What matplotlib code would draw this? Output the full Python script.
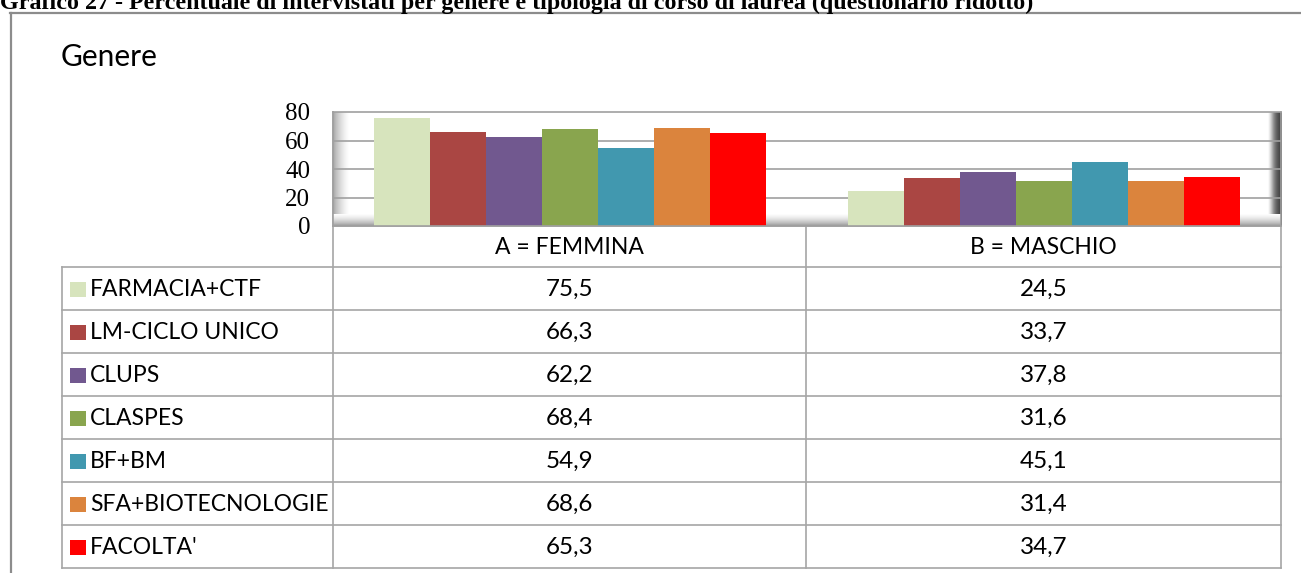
import matplotlib
matplotlib.use('Agg')
import matplotlib.pyplot as plt
import numpy as np

# data
categories = ['A = FEMMINA', 'B = MASCHIO']
series = ['FARMACIA+CTF', 'LM-CICLO UNICO', 'CLUPS', 'CLASPES', 'BF+BM',
          'SFA+BIOTECNOLOGIE', "FACOLTA'"]
femmina = [75.5, 66.3, 62.2, 68.4, 54.9, 68.6, 65.3]
maschio = [24.5, 33.7, 37.8, 31.6, 45.1, 31.4, 34.7]
colors = ['#D7E4BD', '#AA4643', '#71588F', '#89A54E', '#4198AF', '#DB843D', '#FF0000']
yticks = [0, 20, 40, 60, 80]

W, H = 1301, 573
sans = ['Lato', 'DejaVu Sans']
serif = ['Liberation Serif', 'DejaVu Serif']

fig = plt.figure(figsize=(W / 100, H / 100), dpi=100)
fig.patch.set_facecolor('white')

# overlay in pixel coords for frame + table
ov = fig.add_axes([0, 0, 1, 1], zorder=0)
ov.set_xlim(0, W)
ov.set_ylim(H, 0)
ov.axis('off')

ov.text(0, 9.5, 'Grafico 27 - Percentuale di intervistati per genere e tipologia di corso di laurea (questionario ridotto)',
        family=serif, weight='bold', fontsize=17.3, va='baseline', ha='left')
ov.plot([10, W], [13, 13], color='#8C8C8C', lw=1.6)
ov.plot([11, 11], [13, H], color='#8C8C8C', lw=1.6)
ov.text(61, 57, 'Genere', family=sans, fontsize=21.5, va='center', ha='left')

# table grid
lc = '#A6A6A6'
x0, x1, x2, x3 = 62, 333, 806, 1281
top, hdr, rh = 226, 267, 43
ov.plot([x1, x1], [112, 568], color=lc, lw=1.2)
ov.plot([x2, x2], [top, 568], color=lc, lw=1.2)
ov.plot([x3, x3], [top, 568], color=lc, lw=1.2)
ov.plot([x0, x0], [hdr, 568], color=lc, lw=1.2)
ov.plot([x1, x3], [top, top], color=lc, lw=1.2)
for i in range(len(series) + 1):
    yy = hdr + i * rh
    ov.plot([x0, x3], [yy, yy], color=lc, lw=1.2)

for c, cat in enumerate(categories):
    cx = (x1 + x2) / 2 if c == 0 else (x2 + x3) / 2
    ov.text(cx, (top + hdr) / 2 + 1, cat, family=sans, fontsize=16.5, ha='center', va='center')

for i, name in enumerate(series):
    cy = hdr + i * rh + rh / 2
    ov.add_patch(plt.Rectangle((70, cy - 7), 16, 15, color=colors[i], lw=0))
    ov.text(90, cy + 1, name, family=sans, fontsize=16.5, ha='left', va='center')
    for c, vals in enumerate([femmina, maschio]):
        cx = (x1 + x2) / 2 if c == 0 else (x2 + x3) / 2
        ov.text(cx, cy + 1, '{:.1f}'.format(vals[i]).replace('.', ','), family=sans,
                fontsize=17.5, ha='center', va='center')

# bar chart
ax = fig.add_axes([x1 / W, 1 - 226 / H, (x3 - x1) / W, (226 - 112) / H], zorder=1)
ax.set_facecolor('white')
ax.set_xlim(-0.5, 1.5)
ax.set_ylim(0, 80)
ax.set_yticks(yticks)
ax.set_yticklabels([str(t) for t in yticks], family=serif, fontsize=18)
ax.tick_params(axis='y', length=0, pad=16.5)
ax.set_xticks([])
for s in ax.spines.values():
    s.set_color('#A0A0A0')
    s.set_linewidth(1.2)

# 3d-ish walls
grad = np.linspace(0, 1, 64).reshape(1, -1)
ax.imshow(grad, extent=[0, 0.016, 0, 1], transform=ax.transAxes, aspect='auto',
          cmap='Greys_r', vmin=-1.2, vmax=1, zorder=0.5)
ax.imshow(grad[:, ::-1] ** 2, extent=[0.986, 1, 0, 1], transform=ax.transAxes, aspect='auto',
          cmap='Greys_r', vmin=-0.25, vmax=1, zorder=0.5)
ax.imshow(grad.reshape(-1, 1), extent=[0, 1, 0, 0.1], transform=ax.transAxes, aspect='auto',
          cmap='Greys_r', vmin=-1.0, vmax=1, origin='lower', zorder=0.5)
ax.set_xlim(-0.5, 1.5)
ax.set_ylim(0, 80)

for t in yticks[1:-1]:
    ax.axhline(t, color='#A0A0A0', lw=1.2, zorder=1)

x = np.arange(len(categories))
w = 56 / 474
for j, name in enumerate(series):
    ax.bar(x + (j - 3) * w, [femmina[j], maschio[j]], width=w, color=colors[j],
           edgecolor='none', zorder=2)

fig.savefig('out.png', dpi=100, facecolor='white')
